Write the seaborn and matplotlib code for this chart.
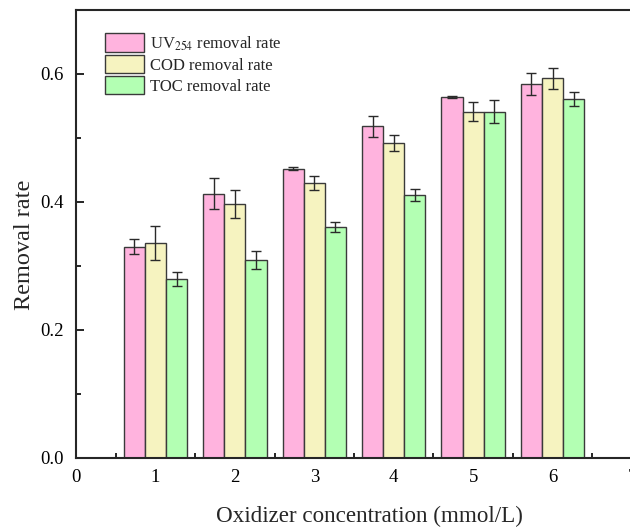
import numpy as np
import pandas as pd
import matplotlib
matplotlib.use("Agg")
import matplotlib.pyplot as plt
from matplotlib.ticker import MultipleLocator
import seaborn as sns

sns.set_style("ticks")
plt.rcParams['font.family'] = ['Liberation Serif', 'DejaVu Serif']
plt.rcParams['mathtext.fontset'] = 'stix'

# data
concentration = [1, 2, 3, 4, 5, 6]
series_names = ["UV$_{254}$ removal rate", "COD removal rate", "TOC removal rate"]
uv254 = [0.330, 0.413, 0.452, 0.518, 0.564, 0.584]
uv254_err = [0.012, 0.024, 0.002, 0.016, 0.002, 0.017]
cod = [0.336, 0.397, 0.430, 0.492, 0.541, 0.593]
cod_err = [0.027, 0.022, 0.011, 0.013, 0.015, 0.017]
toc = [0.279, 0.310, 0.361, 0.411, 0.541, 0.561]
toc_err = [0.011, 0.014, 0.008, 0.010, 0.018, 0.011]

colors = ["#FFB3DE", "#F6F3C0", "#B3FFB3"]

df = pd.DataFrame({
    "conc": concentration * 3,
    "rate": uv254 + cod + toc,
    "series": [s for s in series_names for _ in concentration],
})
errs = [uv254_err, cod_err, toc_err]

fig = plt.figure(figsize=(6.3, 5.27), dpi=100)
ax = fig.add_axes([76 / 630, 69 / 527, 556 / 630, 448 / 527])

sns.barplot(data=df, x="conc", y="rate", hue="series", hue_order=series_names,
            palette=colors, saturation=1, native_scale=True, errorbar=None,
            width=0.8, edgecolor="#3a3a3a", linewidth=1.0, ax=ax)

for cont, err in zip(ax.containers, errs):
    xs = [b.get_x() + b.get_width() / 2 for b in cont]
    hs = [b.get_height() for b in cont]
    ax.errorbar(xs, hs, yerr=err, fmt="none", ecolor="#2a2a2a",
                elinewidth=1.0, capsize=3.6, capthick=1.0, zorder=5)

ax.set_xlim(0, 7)
ax.set_ylim(0, 0.7)
ax.xaxis.set_major_locator(MultipleLocator(1))
ax.xaxis.set_minor_locator(MultipleLocator(0.5))
ax.yaxis.set_major_locator(MultipleLocator(0.2))
ax.yaxis.set_minor_locator(MultipleLocator(0.1))
ax.tick_params(which="both", direction="in", labelsize=13.5, width=1.2, colors="black")
ax.tick_params(which="major", length=6)
ax.tick_params(which="minor", length=3.5)
ax.tick_params(axis="x", pad=8)
ax.tick_params(axis="y", pad=9)

for s in ["left", "bottom", "top", "right"]:
    ax.spines[s].set_visible(True)
    ax.spines[s].set_linewidth(1.5)

ax.set_xlabel("Oxidizer concentration (mmol/L)", fontsize=16.6)
ax.set_ylabel("Removal rate", fontsize=17.5)
ax.xaxis.set_label_coords(0.527, -0.107)
ax.yaxis.set_label_coords(-0.074, 0.475)

ax.legend(loc="upper left", bbox_to_anchor=(0.035, 0.97), frameon=False,
          fontsize=12, handlelength=2.3, handleheight=1.3,
          handletextpad=0.35, labelspacing=0.15, borderaxespad=0.2)

fig.savefig("out.png", dpi=100)
